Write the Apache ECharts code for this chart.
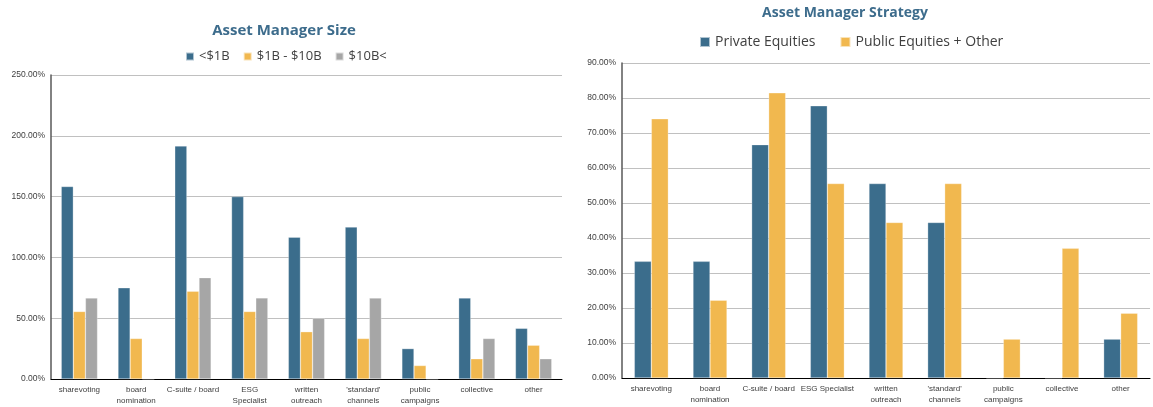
<!DOCTYPE html>
<html>
<head>
<meta charset="utf-8">
<script src="https://cdn.jsdelivr.net/npm/echarts@6/dist/echarts.min.js"></script>
<style>
  html, body { margin: 0; padding: 0; background: #fff; }
  #main { width: 1153px; height: 407px; }
</style>
</head>
<body>
<div id="main"></div>
<script>
// left chart: by manager size
var sizeCategories = ['sharevoting', 'board\nnomination', 'C-suite / board', 'ESG\nSpecialist',
    'written\noutreach', "'standard'\nchannels", 'public\ncampaigns', 'collective', 'other'];
var sizeSeriesNames = ['<$1B', '$1B - $10B', '$10B<'];
var sizeUnder1B = [158.33, 75.0, 191.67, 150.0, 116.67, 125.0, 25.0, 66.67, 41.67];
var size1to10B = [55.56, 33.33, 72.22, 55.56, 38.89, 33.33, 11.11, 16.67, 27.78];
var sizeOver10B = [66.67, 0, 83.33, 66.67, 50.0, 66.67, 0, 33.33, 16.67];

// right chart: by strategy
var stratCategories = ['sharevoting', 'board\nnomination', 'C-suite / board', 'ESG Specialist',
    'written\noutreach', "'standard'\nchannels", 'public\ncampaigns', 'collective', 'other'];
var stratSeriesNames = ['Private Equities', 'Public Equities + Other'];
var stratPrivate = [33.33, 33.33, 66.67, 77.78, 55.56, 44.44, 0, 0, 11.11];
var stratPublic = [74.07, 22.22, 81.48, 55.56, 44.44, 55.56, 11.11, 37.04, 18.52];

var blue = '#3b6d8c';
var yellow = '#f1b84f';
var gray = '#a6a6a6';
var titleColor = '#3d6c8c';

var myChart = echarts.init(document.getElementById('main'));

function pct(v) {
    return v.toFixed(2) + '%';
}

function xAxisFor(cats, idx) {
    return {
        type: 'category',
        gridIndex: idx,
        data: cats,
        axisTick: {show: false},
        axisLine: {lineStyle: {color: '#000', width: 1}},
        axisLabel: {
            interval: 0,
            fontSize: 8,
            color: '#404040',
            fontFamily: 'Liberation Sans',
            margin: 5,
            lineHeight: 11
        }
    };
}

function yAxisFor(max, interval, idx) {
    return {
        type: 'value',
        gridIndex: idx,
        min: 0,
        max: max,
        interval: interval,
        axisLine: {show: true, lineStyle: {color: '#595959', width: 1.5}},
        axisTick: {show: false},
        splitLine: {lineStyle: {color: '#c0c0c0', width: 1}},
        axisLabel: {
            formatter: pct,
            fontSize: 8.5,
            color: '#404040',
            fontFamily: 'Liberation Sans',
            margin: 6
        }
    };
}

function barSeries(name, data, color, idx, gap) {
    return {
        name: name,
        type: 'bar',
        xAxisIndex: idx,
        yAxisIndex: idx,
        data: data,
        barGap: '0%',
        barCategoryGap: gap,
        itemStyle: {color: color, borderColor: 'rgba(255,255,255,0.6)', borderWidth: 0.5}
    };
}

var option = {
    animation: false,
    title: [
        {
            text: 'Asset Manager Size',
            left: 279, top: 18, textAlign: 'center',
            textStyle: {color: titleColor, fontSize: 15, fontWeight: 'bold', fontFamily: 'Open Sans'}
        },
        {
            text: 'Asset Manager Strategy',
            left: 840, top: 1, textAlign: 'center',
            textStyle: {color: titleColor, fontSize: 14, fontWeight: 'bold', fontFamily: 'Open Sans'}
        }
    ],
    legend: [
        {
            data: sizeSeriesNames,
            left: 180, top: 45,
            icon: 'rect', itemWidth: 8, itemHeight: 8, itemGap: 13,
            textStyle: {fontSize: 13, color: '#404040', fontFamily: 'Open Sans'}
        },
        {
            data: stratSeriesNames,
            left: 694, top: 30,
            icon: 'rect', itemWidth: 10, itemHeight: 10, itemGap: 24,
            textStyle: {fontSize: 14, color: '#404040', fontFamily: 'Open Sans'}
        }
    ],
    grid: [
        {left: 51, right: 591, top: 75, bottom: 28},
        {left: 622, right: 3, top: 63, bottom: 29}
    ],
    xAxis: [xAxisFor(sizeCategories, 0), xAxisFor(stratCategories, 1)],
    yAxis: [yAxisFor(250, 50, 0), yAxisFor(90, 10, 1)],
    series: [
        barSeries(sizeSeriesNames[0], sizeUnder1B, blue, 0, '36%'),
        barSeries(sizeSeriesNames[1], size1to10B, yellow, 0, '36%'),
        barSeries(sizeSeriesNames[2], sizeOver10B, gray, 0, '36%'),
        barSeries(stratSeriesNames[0], stratPrivate, blue, 1, '42%'),
        barSeries(stratSeriesNames[1], stratPublic, yellow, 1, '42%')
    ]
};

myChart.setOption(option);
</script>
</body>
</html>
